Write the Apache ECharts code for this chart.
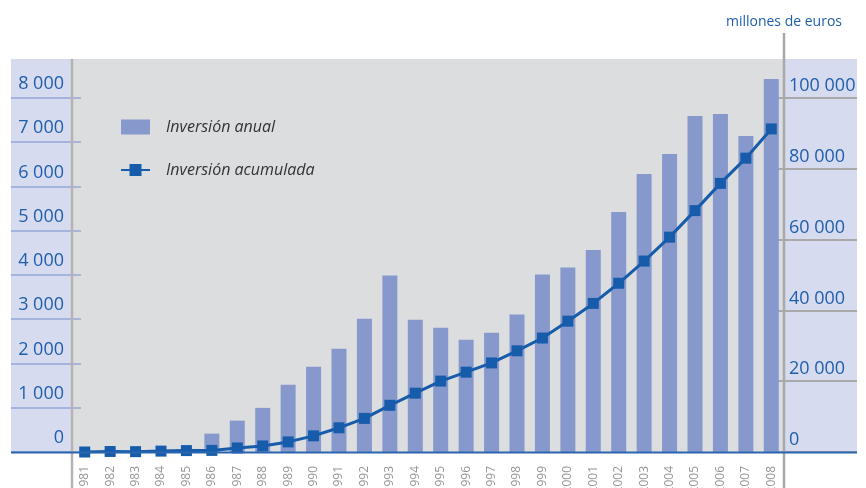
<!DOCTYPE html>
<html>
<head>
<meta charset="utf-8">
<script src="https://cdn.jsdelivr.net/npm/echarts@6/dist/echarts.min.js"></script>
<style>
  html, body { margin: 0; padding: 0; background: #fff; }
  #chart { width: 866px; height: 488px; }
</style>
</head>
<body>
<div id="chart"></div>
<script>
// años
const years = [
  '1981', '1982', '1983', '1984', '1985', '1986', '1987', '1988', '1989', '1990',
  '1991', '1992', '1993', '1994', '1995', '1996', '1997', '1998', '1999', '2000',
  '2001', '2002', '2003', '2004', '2005', '2006', '2007', '2008',
];
// millones de euros
const annual = [
  0, 0, 0, 0, 0, 415, 709, 997, 1518, 1925,
  2333, 3012, 3990, 2990, 2809, 2537, 2695, 3105, 4009, 4167,
  4565, 5424, 6282, 6734, 7593, 7638, 7141, 8429,
];
const accumulated = [
  0, 150, 100, 250, 400, 450, 1140, 1710, 2850, 4560,
  6840, 9490, 13190, 16610, 20030, 22550, 25160, 28580, 32190, 36950,
  41970, 47660, 53930, 60680, 68180, 75870, 82990, 91250,
];
const leftTicks = [0, 1000, 2000, 3000, 4000, 5000, 6000, 7000, 8000];
const rightTicks = [0, 20000, 40000, 60000, 80000, 100000];

const blue = '#1f5eab';
const fmt = (v) => String(v).replace(/\B(?=(\d{3})+(?!\d))/g, ' ');

const chart = echarts.init(document.getElementById('chart'));

const baseAxis = {
  type: 'value',
  min: 0,
  splitLine: { show: false },
  axisLine: { show: false },
};

chart.setOption({
  animation: false,
  textStyle: { fontFamily: 'Open Sans' },
  title: {
    text: 'millones de euros',
    right: 19,
    top: 10,
    textStyle: { color: blue, fontSize: 14, fontWeight: 'normal', fontFamily: 'Open Sans' },
  },
  legend: {
    orient: 'vertical',
    left: 115,
    top: 114,
    itemWidth: 29,
    itemHeight: 15,
    itemGap: 27,
    textStyle: {
      fontStyle: 'italic',
      fontSize: 16,
      color: '#333',
      padding: [0, 0, 0, 11],
    },
    data: [
      { name: 'Inversión anual', icon: 'rect' },
      'Inversión acumulada',
    ],
  },
  grid: {
    left: 72,
    right: 82,
    top: 59,
    bottom: 36,
    outerBoundsMode: 'none',
    containLabel: false,
    show: true,
    backgroundColor: '#dcdddf',
    borderWidth: 0,
  },
  xAxis: {
    type: 'category',
    data: years,
    axisLine: { show: false },
    axisTick: { show: false },
    axisLabel: {
      rotate: 90,
      margin: 14,
      fontSize: 12,
      color: '#959595',
      interval: 0,
      hideOverlap: false,
    },
  },
  yAxis: [
    {
      ...baseAxis,
      position: 'left',
      max: 8880,
      interval: 1000,
      axisTick: {
        show: true,
        length: 61,
        customValues: leftTicks,
        lineStyle: { color: '#97a6d6', width: 1.5 },
      },
      axisLabel: {
        customValues: leftTicks,
        formatter: fmt,
        color: blue,
        fontSize: 18,
        margin: 8,
        verticalAlign: 'bottom',
        padding: [0, 0, 5, 0],
      },
    },
    {
      ...baseAxis,
      position: 'right',
      max: 111000,
      interval: 20000,
      axisTick: {
        show: true,
        length: 73,
        customValues: rightTicks,
        lineStyle: { color: '#a9a9a9', width: 2 },
      },
      axisLabel: {
        customValues: rightTicks,
        formatter: fmt,
        color: blue,
        fontSize: 18,
        margin: 5,
        verticalAlign: 'bottom',
        padding: [0, 0, 3, 0],
      },
    },
    {
      ...baseAxis,
      position: 'left',
      max: 8880,
      interval: 1000,
      axisTick: {
        show: true,
        inside: true,
        length: 9,
        customValues: leftTicks,
        lineStyle: { color: '#97a6d6', width: 1.5 },
      },
      axisLabel: { show: false },
    },
    {
      ...baseAxis,
      position: 'right',
      max: 111000,
      interval: 20000,
      axisTick: {
        show: true,
        inside: true,
        length: 8,
        customValues: rightTicks,
        lineStyle: { color: '#a9a9a9', width: 2 },
      },
      axisLabel: { show: false },
    },
  ],
  graphic: [
    // paneles laterales
    { type: 'rect', z: -10, shape: { x: 11, y: 59, width: 61, height: 393 }, style: { fill: '#d6dbef' } },
    { type: 'rect', z: -10, shape: { x: 785, y: 59, width: 72, height: 393 }, style: { fill: '#d6dbef' } },
    // líneas verticales y base
    { type: 'line', z: 100, shape: { x1: 72, y1: 59, x2: 72, y2: 488 }, style: { stroke: '#b4b4b4', lineWidth: 2.5 } },
    { type: 'line', z: 100, shape: { x1: 784, y1: 33, x2: 784, y2: 488 }, style: { stroke: '#a9a9a9', lineWidth: 2.5 } },
    { type: 'line', z: 100, shape: { x1: 11, y1: 452.5, x2: 857, y2: 452.5 }, style: { stroke: '#2a66b0', lineWidth: 2 } },
  ],
  series: [
    {
      name: 'Inversión anual',
      type: 'bar',
      yAxisIndex: 0,
      data: annual,
      barWidth: 15,
      itemStyle: { color: '#8799cc' },
    },
    {
      name: 'Inversión acumulada',
      type: 'line',
      yAxisIndex: 1,
      data: accumulated,
      symbol: 'rect',
      symbolSize: 11,
      lineStyle: { color: '#165cab', width: 3 },
      itemStyle: { color: '#165cab' },
    },
  ],
});
</script>
</body>
</html>
